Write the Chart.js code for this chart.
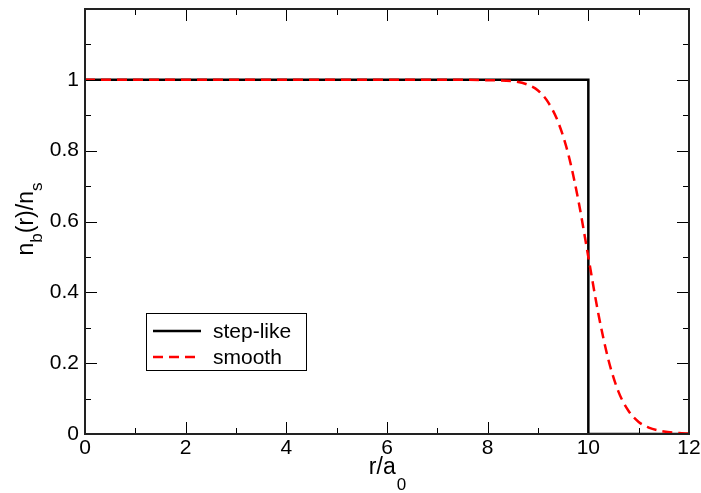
<!DOCTYPE html>
<html>
<head>
<title>n_b(r)/n_s</title>
<script src="https://cdn.jsdelivr.net/npm/chart.js@4.4.0/dist/chart.umd.min.js"></script>
<style type="text/css">
body { margin: 0; background: #fff; }
#box { width: 701px; height: 493px; }
</style>
</head>
<body>
<div id="box"><canvas id="prof"></canvas></div>
<script type="text/javascript">

// step-like profile
var stepR = [0, 10, 10, 12];
var stepN = [1, 1, 0, 0];

// smooth profile
var smoothR = [0, 7.5, 8.0, 8.5, 8.8, 9.0, 9.2, 9.4, 9.6, 9.8, 10.0, 10.2, 10.4, 10.6, 10.8, 11.0, 11.2, 11.5, 11.8, 12];
var smoothN = [1, 1, 0.999, 0.996, 0.986, 0.97, 0.937, 0.881, 0.791, 0.661, 0.5, 0.339, 0.209, 0.119, 0.065, 0.034, 0.018, 0.007, 0.003, 0.001];

var xTicks = [0, 2, 4, 6, 8, 10, 12];
var yTicks = [0, 0.2, 0.4, 0.6, 0.8, 1];
var legendNames = ["step-like", "smooth"];

function pts(xs, ys) {
  var out = [];
  for (var i = 0; i < xs.length; i++) out.push({x: xs[i], y: ys[i]});
  return out;
}

var FONT = "'Liberation Sans', Arial, sans-serif";

// no extra label padding, layout.padding decides the plot box
function noPad(s) {
  s.paddingTop = 0; s.paddingBottom = 0; s.paddingLeft = 0; s.paddingRight = 0;
}

var frame = {
  id: 'frame',
  afterDraw: function(chart) {
    var c = chart.ctx, a = chart.chartArea;
    var xs = chart.scales.x, ys = chart.scales.y;
    c.save();
    c.strokeStyle = '#000';
    c.lineWidth = 1;
    // minor + major ticks, inward on all four sides
    for (var v = 0; v <= 12; v++) {
      var px = Math.round(xs.getPixelForValue(v)) + 0.5;
      var len = (v % 2 == 0) ? 12 : 6;
      c.beginPath();
      c.moveTo(px, a.bottom); c.lineTo(px, a.bottom - len);
      c.moveTo(px, a.top); c.lineTo(px, a.top + len);
      c.stroke();
    }
    for (var k = 0; k <= 12; k++) {
      var py = Math.round(ys.getPixelForValue(k / 10)) + 0.5;
      var l2 = (k % 2 == 0) ? 12 : 6;
      c.beginPath();
      c.moveTo(a.left, py); c.lineTo(a.left + l2, py);
      c.moveTo(a.right, py); c.lineTo(a.right - l2, py);
      c.stroke();
    }
    c.lineWidth = 2;
    c.strokeStyle = '#222';
    c.strokeRect(a.left, a.top, a.right - a.left, a.bottom - a.top);

    // axis titles with subscripts
    c.fillStyle = '#000';
    c.textBaseline = 'alphabetic';
    c.textAlign = 'left';
    var cx = (a.left + a.right) / 2;
    c.font = '23px ' + FONT;
    var w1 = c.measureText('r/a').width;
    c.font = '17px ' + FONT;
    var w2 = c.measureText('0').width;
    var x0 = cx - (w1 + w2) / 2;
    c.font = '23px ' + FONT;
    c.fillText('r/a', x0, 474);
    c.font = '17px ' + FONT;
    c.fillText('0', x0 + w1 + 1, 490);

    c.translate(33, 219);
    c.rotate(-Math.PI / 2);
    var parts = [['n', 23, 0], ['b', 17, 9], ['(r)/n', 23, 0], ['s', 17, 9]];
    var tot = 0;
    parts.forEach(function(p) { c.font = p[1] + 'px ' + FONT; tot += c.measureText(p[0]).width; });
    var xx = -tot / 2;
    parts.forEach(function(p) {
      c.font = p[1] + 'px ' + FONT;
      c.fillText(p[0], xx, p[2]);
      xx += c.measureText(p[0]).width;
    });
    c.restore();

    // legend box
    c.save();
    c.fillStyle = '#fff';
    c.fillRect(146, 313, 161, 58);
    c.strokeStyle = '#000';
    c.lineWidth = 1;
    c.strokeRect(146.5, 313.5, 160, 57);
    var ds = chart.data.datasets;
    var ly = [331, 357];
    for (var i = 0; i < 2; i++) {
      var d = ds[i == 0 ? 1 : 0];
      c.strokeStyle = d.borderColor;
      c.lineWidth = 2.5;
      c.setLineDash(d.borderDash || []);
      c.beginPath();
      c.moveTo(153, ly[i]); c.lineTo(201, ly[i]);
      c.stroke();
      c.setLineDash([]);
      c.fillStyle = '#000';
      c.font = '21px ' + FONT;
      c.textBaseline = 'middle';
      c.fillText(legendNames[i], 213, ly[i] + 1);
    }
    c.restore();
  }
};

var ctx = document.getElementById('prof').getContext('2d');
var chart = new Chart(ctx, {
  type: 'line',
  data: {
    datasets: [
      {
        label: legendNames[1],
        data: pts(smoothR, smoothN),
        borderColor: '#ff0000',
        borderWidth: 2.5,
        borderDash: [10, 6],
        pointRadius: 0,
        cubicInterpolationMode: 'monotone',
        fill: false,
        order: 0
      },
      {
        label: legendNames[0],
        data: pts(stepR, stepN),
        borderColor: '#000000',
        borderWidth: 2.5,
        pointRadius: 0,
        tension: 0,
        fill: false,
        order: 1
      }
    ]
  },
  options: {
    responsive: true,
    maintainAspectRatio: false,
    animation: false,
    layout: { padding: { left: 0, top: 9, right: 12, bottom: 0 } },
    plugins: { legend: { display: false }, tooltip: { enabled: false } },
    scales: {
      x: {
        type: 'linear', min: 0, max: 12,
        grid: { display: false, drawTicks: false }, border: { display: false },
        afterBuildTicks: function(s) { s.ticks = xTicks.map(function(v) { return {value: v}; }); },
        ticks: { color: '#000', padding: 2, maxRotation: 0, font: { family: FONT, size: 21 },
          callback: function(v) { return String(v); } },
        afterFit: function(s) { s.height = 59; noPad(s); }
      },
      y: {
        type: 'linear', min: 0, max: 1.2,
        grid: { display: false, drawTicks: false }, border: { display: false },
        afterBuildTicks: function(s) { s.ticks = yTicks.map(function(v) { return {value: v}; }); },
        ticks: { color: '#000', padding: 6, font: { family: FONT, size: 21 },
          callback: function(v) { return String(Number(v.toFixed(1))); } },
        afterFit: function(s) { s.width = 85; noPad(s); }
      }
    }
  },
  plugins: [frame]
});
</script>
</body>
</html>
